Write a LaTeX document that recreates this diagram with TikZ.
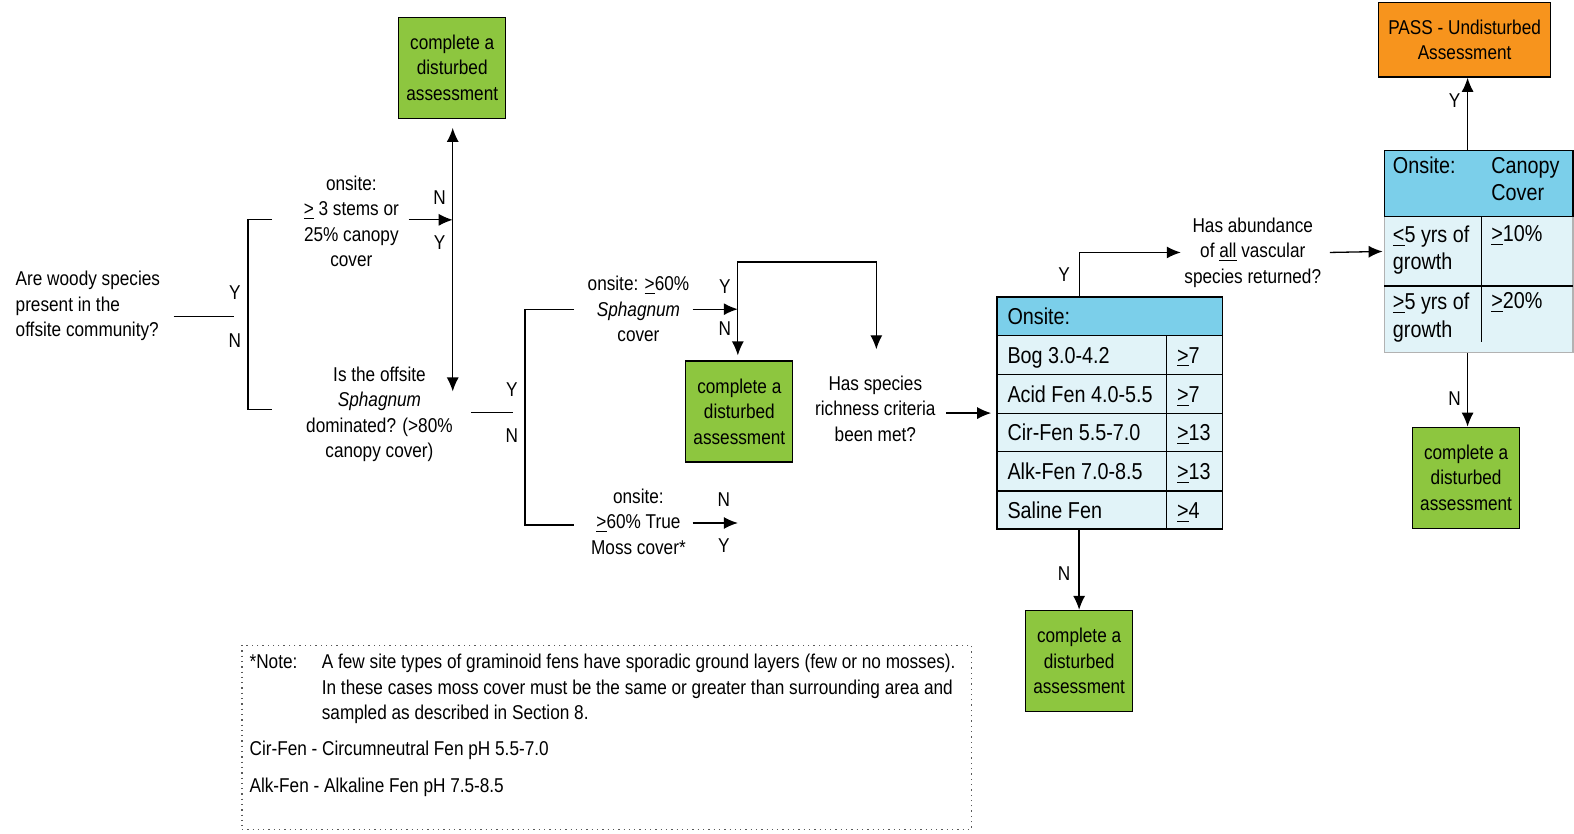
\documentclass[tikz,border=0pt]{standalone}
\usepackage{fontspec}
\setmainfont{Liberation Sans}[FakeStretch=0.86]
\usetikzlibrary{arrows.meta,calc}
\definecolor{boxgreen}{HTML}{8DC63F}
\definecolor{boxorange}{HTML}{F7941D}
\definecolor{hdrblue}{HTML}{7BCFEA}
\definecolor{rowblue}{HTML}{E1F3F8}
\newcommand{\uge}{\underline{>}}
\newcommand{\ule}{\underline{<}}

\tikzset{
  txt/.style={align=center, inner sep=0pt, font=\fontsize{10}{12.75}\selectfont},
  yn/.style={inner sep=0pt, font=\fontsize{10}{12}\selectfont},
  cell/.style={anchor=west, inner sep=0pt, text height=8.2pt, text depth=0pt, font=\fontsize{11.5}{13.8}\selectfont},
  cellml/.style={anchor=north west, align=left, inner sep=0pt, font=\fontsize{11.5}{13.8}\selectfont},
  outbox/.style={draw, fill=boxgreen, minimum width=53.5pt, minimum height=50.5pt, align=center, inner sep=1pt, font=\fontsize{10}{12.75}\selectfont},
  passbox/.style={draw, fill=boxorange, minimum width=86pt, minimum height=37.5pt, align=center, inner sep=1pt, font=\fontsize{10}{12.75}\selectfont},
  arr/.style={-{Latex[length=7pt,width=6pt]}}
}

\begin{document}
\begin{tikzpicture}[x=0.502pt,y=-0.502pt,line width=0.65pt]
\useasboundingbox (0,0) rectangle (1568,830);

% woody species question
\node[txt, align=left, anchor=west] (woody) at (15,305) {Are woody species\\present in the\\offsite community?};
\coordinate (w1) at (173,315);
\coordinate (w2) at (233,315);
\draw (w1) -- (w2);
\node[yn] at (234,292) {Y};
\node[yn] at (234,339) {N};
\coordinate (b1t) at (271,219);
\coordinate (b1b) at (271,408);
\draw (b1t) -- ++(-24,0) |- (b1b);

% stems / canopy
\node[txt] (stems) at (350,220.5) {onsite:\\\uge{} 3 stems or\\25\% canopy\\cover};
\coordinate (j1) at (451,219);
\coordinate (j1b) at (451,390);
\draw[arr] (407,219) -- (j1);
\node[yn] at (438,197) {N};
\node[yn] at (438,242) {Y};
\node[outbox] (dist1) at (450.5,67.5) {complete a\\disturbed\\assessment};
\draw[arr] (j1) -- ([yshift=-4.5pt]j1 |- dist1.south);
\draw[arr] (j1) -- (j1b);

% sphagnum dominated
\node[txt] (sphag) at (378,412.5) {Is the offsite\\\textit{Sphagnum}\\dominated? (>80\%\\canopy cover)};
\coordinate (s1) at (469,411);
\coordinate (s2) at (511,411);
\draw (s1) -- (s2);
\node[yn] at (510,388) {Y};
\node[yn] at (510,434) {N};
\coordinate (b2t) at (572,308);
\coordinate (b2b) at (572,523);
\draw (b2t) -- ++(-49,0) |- (b2b);

% onsite sphagnum cover
\node[txt] (sph60) at (636,308) {onsite: \uge60\%\\\textit{Sphagnum}\\cover};
\coordinate (j2) at (735,308);
\coordinate (rtop) at (873,348);
\draw[arr] (690,308) -- (j2);
\node[yn] at (722,286) {Y};
\node[yn] at (722,327) {N};
\draw[arr] (j2) -- (735,261) -| (rtop);
\node[outbox] (dist2) at (736.5,410) {complete a\\disturbed\\assessment};
\draw[arr] (j2) -- ([yshift=2.5pt]j2 |- dist2.north);

% true moss cover
\node[txt] (moss) at (636,519.5) {onsite:\\\uge60\% True\\Moss cover*};
\coordinate (j3) at (735,521);
\draw[arr] (690,521) -- (j3);
\node[yn] at (721,498) {N};
\node[yn] at (721,544) {Y};

% species richness
\node[txt] (rich) at (872,407) {Has species\\richness criteria\\been met?};

% richness table
\fill[rowblue] (993,334) rectangle (1218,527);
\draw[fill=hdrblue] (993,296) rectangle (1218,334);
\foreach \yy in {373,412,450,489}
  \draw (993,\yy) -- (1218,\yy);
\draw (1162,334) -- (1162,527);
\node[draw, minimum width=112.9pt, minimum height=116pt, inner sep=0pt] (tab1) at (1105.5,411.5) {};
\node[cell] at (1003,315) {Onsite:};
\foreach \yy/\site/\val in {353.5/Bog 3.0-4.2/\uge7, 392.5/Acid Fen 4.0-5.5/\uge7, 431/Cir-Fen 5.5-7.0/\uge13, 469.5/Alk-Fen 7.0-8.5/\uge13, 508/Saline Fen/\uge4}{
  \node[cell] at (1003,\yy) {\site};
  \node[cell] at (1172,\yy) {\val};
}
\draw[arr] ([xshift=-25pt]tab1.west) -- ([xshift=-2.5pt]tab1.west);

% vascular abundance
\node[txt] (abund) at (1248,251.5) {Has abundance\\of \underline{all} vascular\\species returned?};
\draw[arr] ([xshift=-15.3pt]tab1.north) |- ([xshift=-1.5pt]abund.west);
\node[yn] at (1060,274) {Y};
\node[outbox] (dist4) at (1075,658.5) {complete a\\disturbed\\assessment};
\draw[arr] (tab1.south -| dist4.north) -- (dist4.north);
\node[yn] at (1060,571) {N};

% canopy table
\fill[rowblue] (1379,216) rectangle (1567,351);
\draw[gray!60] (1379,216) rectangle (1567,351);
\draw[fill=hdrblue] (1379,150) rectangle (1567,216);
\draw (1379,285) -- (1567,285);
\draw (1476,216) -- (1476,341);
\node[minimum width=94.4pt, minimum height=101pt, inner sep=0pt] (tab2) at (1473,250.5) {};
\node[cellml] at (1387,156) {Onsite:};
\node[cellml] at (1485,156) {Canopy\\Cover};
\node[cellml] at (1387,224) {\ule5 yrs of\\growth};
\node[cellml] at (1485,224) {\uge10\%};
\node[cellml] at (1387,291) {\uge5 yrs of\\growth};
\node[cellml] at (1485,291) {\uge20\%};
\draw[arr] ([xshift=4pt]abund.east) -- ([xshift=-0.5pt]tab2.west);

% pass / fail
\node[passbox] (pass) at (1459,39.5) {PASS - Undisturbed\\Assessment};
\draw[arr] (tab2.north -| 1462,0) -- (pass.south -| 1462,0);
\node[yn] at (1449,100) {Y};
\node[outbox] (dist3) at (1460.5,476) {complete a\\disturbed\\assessment};
\draw[arr] (tab2.south -| 1462,0) -- (dist3.north -| 1462,0);
\node[yn] at (1449,397) {N};

% note
\node[draw, dotted, gray!70!black, minimum width=364.9pt, minimum height=91.9pt, inner sep=0pt] (note) at (604.5,734.5) {};
\node[txt, anchor=west] at (248,659) {*Note:};
\node[txt, anchor=north west, align=left] at (320,651) {A few site types of graminoid fens have sporadic ground layers (few or no mosses).\\In these cases moss cover must be the same or greater than surrounding area and\\sampled as described in Section 8.};
\node[txt, anchor=west] at (248,747) {Cir-Fen - Circumneutral Fen pH 5.5-7.0};
\node[txt, anchor=west] at (248,784) {Alk-Fen - Alkaline Fen pH 7.5-8.5};
\end{tikzpicture}
\end{document}
